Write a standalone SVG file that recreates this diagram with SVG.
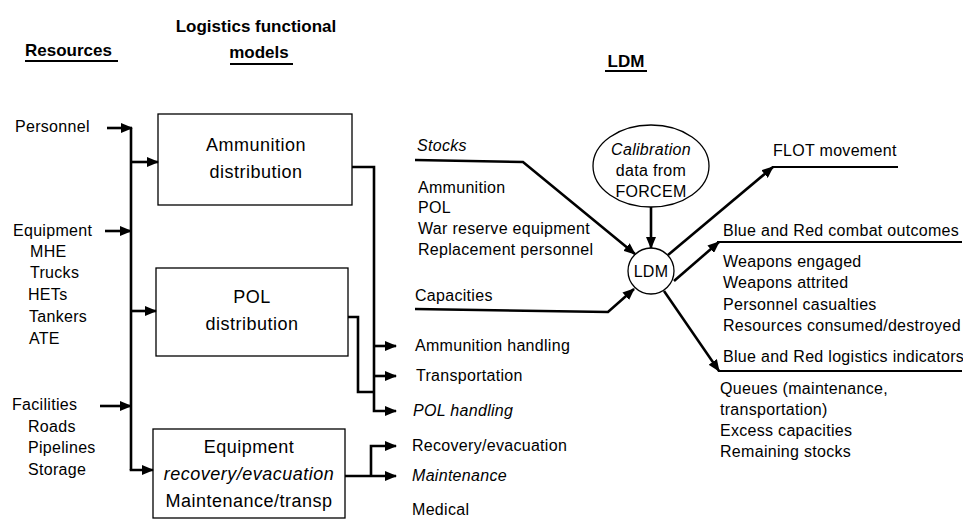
<svg xmlns="http://www.w3.org/2000/svg" width="963" height="519" viewBox="0 0 963 519">
<style>
text{font-family:"Liberation Sans",Arial,sans-serif;fill:#000}
.h{font-size:17px;font-weight:bold}
.t{font-size:16px;letter-spacing:0.3px}
.b{font-size:18px;letter-spacing:0.5px;text-anchor:middle}
.i{font-style:italic}
.m{text-anchor:middle}
.box{fill:#fff;stroke:#000;stroke-width:1.3}
.c{fill:none;stroke:#000;stroke-width:2.6;stroke-linejoin:miter}
.u{fill:none;stroke:#000;stroke-width:2}
.a{marker-end:url(#ah)}
</style>
<defs>
<marker id="ah" markerUnits="userSpaceOnUse" markerWidth="12" markerHeight="10" refX="11" refY="5" orient="auto">
<path d="M0,0 L12,5 L0,10 z" fill="#000"/>
</marker>
</defs>
<rect width="963" height="519" fill="#fff"/>
<g id="headers">
<text class="h" x="25" y="56">Resources</text>
<path class="u" d="M25,61 H118"/>
<text class="h" x="256" y="32" text-anchor="middle">Logistics functional</text>
<text class="h" x="259" y="58" text-anchor="middle">models</text>
<path class="u" d="M230,64 H293"/>
<text class="h" x="626" y="67" text-anchor="middle">LDM</text>
<path class="u" d="M605,71 H647"/>
</g>
<g id="resources">
<text class="t" x="15" y="132">Personnel</text>
<text class="t" x="13" y="236">Equipment</text>
<text class="t" x="30" y="257">MHE</text>
<text class="t" x="30" y="278">Trucks</text>
<text class="t" x="28" y="300">HETs</text>
<text class="t" x="29" y="322">Tankers</text>
<text class="t" x="29" y="344">ATE</text>
<text class="t" x="12" y="410">Facilities</text>
<text class="t" x="28" y="432">Roads</text>
<text class="t" x="28" y="453">Pipelines</text>
<text class="t" x="28" y="475">Storage</text>
</g>
<g id="ammo-box">
<rect class="box" x="158" y="114" width="194" height="91"/>
<text class="b" x="256" y="151">Ammunition</text>
<text class="b" x="256" y="178">distribution</text>
</g>
<g id="pol-box">
<rect class="box" x="156" y="268" width="192" height="88"/>
<text class="b" x="252" y="303">POL</text>
<text class="b" x="252" y="330">distribution</text>
</g>
<g id="equip-box">
<rect class="box" x="153" y="429" width="192" height="89"/>
<text class="b" x="249" y="453">Equipment</text>
<text class="b i" x="249" y="480">recovery/evacuation</text>
<text class="b" x="249" y="507">Maintenance/transp</text>
</g>
<g id="outputs">
<text class="t" x="415" y="351">Ammunition handling</text>
<text class="t" x="416" y="381">Transportation</text>
<text class="t i" x="413" y="416">POL handling</text>
<text class="t" x="412" y="451">Recovery/evacuation</text>
<text class="t i" x="412" y="481">Maintenance</text>
<text class="t" x="412" y="515">Medical</text>
</g>
<g id="stocks">
<text class="t i" x="417" y="151">Stocks</text>
<text class="t" x="418" y="193">Ammunition</text>
<text class="t" x="418" y="213">POL</text>
<text class="t" x="418" y="234">War reserve equipment</text>
<text class="t" x="418" y="255">Replacement personnel</text>
<text class="t" x="415" y="301">Capacities</text>
</g>
<g id="calibration">
<ellipse class="box" cx="651" cy="166" rx="58" ry="41"/>
<text class="t m i" x="651" y="155">Calibration</text>
<text class="t m" x="651" y="176">data from</text>
<text class="t m" x="651" y="197">FORCEM</text>
</g>
<g id="ldm">
<circle class="box" cx="651" cy="271" r="23"/>
<text class="t m" x="651" y="277">LDM</text>
</g>
<g id="results">
<text class="t" x="773" y="156">FLOT movement</text>
<text class="t" x="723" y="236">Blue and Red combat outcomes</text>
<text class="t" x="723" y="267">Weapons engaged</text>
<text class="t" x="723" y="288">Weapons attrited</text>
<text class="t" x="723" y="310">Personnel casualties</text>
<text class="t" x="723" y="331">Resources consumed/destroyed</text>
<text class="t" x="723" y="362">Blue and Red logistics indicators</text>
<text class="t" x="720" y="394">Queues (maintenance,</text>
<text class="t" x="720" y="415">transportation)</text>
<text class="t" x="720" y="436">Excess capacities</text>
<text class="t" x="720" y="457">Remaining stocks</text>
</g>
<g id="connectors">
<path class="c a" d="M107,128 H132"/>
<path class="c" d="M131,128 V470"/>
<path class="c a" d="M131,162 H158"/>
<path class="c a" d="M105,231 H131"/>
<path class="c a" d="M131,311 H156"/>
<path class="c a" d="M100,406 H131"/>
<path class="c a" d="M131,469 V470 H153"/>
<path class="c a" d="M352,167 H374 V411 H396"/>
<path class="c a" d="M374,346 H396"/>
<path class="c a" d="M374,376 H396"/>
<path class="c" d="M348,317 H358 V392 H374"/>
<path class="c a" d="M345,476 H396"/>
<path class="c a" d="M371,476 V446 H396"/>
<path class="c a" d="M415,160 L523,162 L635,254"/>
<path class="c a" d="M415,309 L608,312 L634,289"/>
<path class="c a" d="M651,207 V248"/>
<path class="c a" d="M668,255 L773,167"/>
<path class="u" d="M772,167 H898"/>
<path class="c a" d="M674,281 L719,242"/>
<path class="u" d="M717,242 H962"/>
<path class="c a" d="M664,291 L719,371"/>
<path class="u" d="M718,371 H962"/>
</g>
</svg>
